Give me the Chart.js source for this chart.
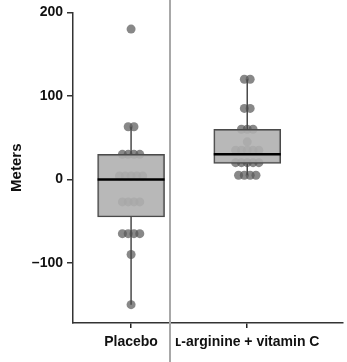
<!DOCTYPE html>
<html>
<head>
<meta charset="utf-8">
<script src="https://cdn.jsdelivr.net/npm/chart.js@4/dist/chart.umd.min.js"></script>
<style>
  html, body { margin: 0; padding: 0; background: #fff; overflow: hidden; }
  canvas { display: block; }
</style>
</head>
<body>
<canvas id="chart" width="347" height="362"></canvas>
<script>
// groups and their x positions
const groups = ['Placebo', '\u029F-arginine + vitamin C'];
const groupPos = [1, 2];

// individual observations (meters)
const placeboValues = [180, 63, 63, 30, 30, 30, 30, 4, 4, 4, 4, 4, -27, -27, -27, -27, -65, -65, -65, -65, -90, -150];
const arginineValues = [120, 120, 85, 85, 60, 60, 60, 45, 35, 35, 35, 35, 35, 20, 20, 20, 20, 20, 5, 5, 5, 5];

// box stats: [whisker low, q1, median, q3, whisker high]
const placeboBox = [-150, -45, 0, 30, 63];
const arginineBox = [5, 19, 30, 60, 120];

const yTicks = [200, 100, 0, -100];
const dividerAt = 1.338;

// spread equal values side by side (simple beeswarm)
function swarm(values, center, step) {
  const counts = {};
  values.forEach(v => { counts[v] = (counts[v] || 0) + 1; });
  const seen = {};
  return values.map(v => {
    const k = seen[v] || 0;
    seen[v] = k + 1;
    return { x: center + (k - (counts[v] - 1) / 2) * step, y: v };
  });
}

const boxes = [placeboBox, arginineBox];

const boxExtras = {
  id: 'boxExtras',
  afterDatasetsDraw(chart) {
    const { ctx, scales: { y } } = chart;
    const meta = chart.getDatasetMeta(0);
    ctx.save();
    meta.data.forEach((bar, i) => {
      const b = boxes[i];
      const half = bar.width / 2;
      // whiskers
      ctx.strokeStyle = '#4a4a4a';
      ctx.lineWidth = 1.5;
      ctx.beginPath();
      ctx.moveTo(bar.x, y.getPixelForValue(b[3]));
      ctx.lineTo(bar.x, y.getPixelForValue(b[4]));
      ctx.moveTo(bar.x, y.getPixelForValue(b[1]));
      ctx.lineTo(bar.x, y.getPixelForValue(b[0]));
      ctx.stroke();
      // median
      ctx.strokeStyle = '#000';
      ctx.lineWidth = 2.5;
      ctx.beginPath();
      ctx.moveTo(bar.x - half, y.getPixelForValue(b[2]));
      ctx.lineTo(bar.x + half, y.getPixelForValue(b[2]));
      ctx.stroke();
    });
    ctx.restore();
  },
  afterDraw(chart) {
    const { ctx, scales: { x } } = chart;
    const px = Math.round(x.getPixelForValue(dividerAt));
    ctx.save();
    ctx.strokeStyle = '#a8a8a8';
    ctx.lineWidth = 2;
    ctx.beginPath();
    ctx.moveTo(px, 0);
    ctx.lineTo(px, chart.height);
    ctx.stroke();
    ctx.restore();
  }
};

const tickFont = { family: 'Liberation Sans, Arial, sans-serif', size: 14, weight: 'bold' };

new Chart(document.getElementById('chart'), {
  type: 'scatter',
  data: {
    datasets: [{
      type: 'bar',
      data: groupPos.map((p, i) => ({ x: p, y: [boxes[i][1], boxes[i][3]] })),
      backgroundColor: 'rgba(176,176,176,0.9)',
      borderColor: '#4a4a4a',
      borderWidth: 1.5,
      borderSkipped: false,
      barThickness: 67,
      order: 1
    }, {
      data: swarm(placeboValues, groupPos[0], 0.05).concat(swarm(arginineValues, groupPos[1], 0.05)),
      backgroundColor: 'rgba(85,85,85,0.7)',
      borderWidth: 0,
      pointRadius: 4.5,
      order: 2
    }]
  },
  options: {
    responsive: false,
    animation: false,
    layout: { padding: { top: 10, right: 0, left: 0, bottom: 0 } },
    plugins: { legend: { display: false }, tooltip: { enabled: false } },
    scales: {
      x: {
        type: 'linear',
        offset: false,
        min: 0.5,
        max: 2.82,
        afterBuildTicks: s => { s.ticks = groupPos.map(v => ({ value: v })); },
        afterFit: s => { s.height = 39; },
        grid: { offset: false, drawOnChartArea: false, tickLength: 5, color: '#222', lineWidth: 1.5 },
        border: { color: '#333', width: 1.5 },
        ticks: {
          color: '#111', font: tickFont, padding: 6, maxRotation: 0, autoSkip: false,
          callback: v => groups[groupPos.indexOf(v)]
        }
      },
      y: {
        min: -172,
        max: 200,
        afterBuildTicks: s => { s.ticks = yTicks.map(v => ({ value: v })); },
        afterFit: s => { s.width = 73; },
        grid: { drawOnChartArea: false, tickLength: 6, color: '#333', lineWidth: 1.5 },
        border: { color: '#333', width: 1.5 },
        ticks: {
          color: '#111', font: tickFont, padding: 4,
          callback: v => v < 0 ? '\u2013' + Math.abs(v) : v
        },
        title: {
          display: true, text: 'Meters', color: '#111',
          font: { family: 'Liberation Sans, Arial, sans-serif', size: 15, weight: 'bold' },
          padding: { top: 8, bottom: 4 }
        }
      }
    }
  },
  plugins: [boxExtras]
});
</script>
</body>
</html>
